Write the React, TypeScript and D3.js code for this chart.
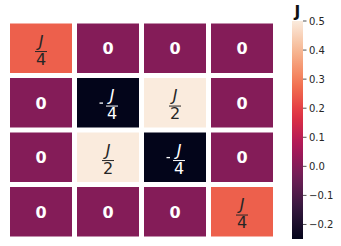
import React from 'react';
import * as d3 from 'd3';

// heatmap values (in units of J) and their annotations
const rowIds = [0, 1, 2, 3];
const colIds = [0, 1, 2, 3];
const values = [
  [0.25, 0, 0, 0],
  [0, -0.25, 0.5, 0],
  [0, 0.5, -0.25, 0],
  [0, 0, 0, 0.25],
];
const labels = [
  ['J/4', '0', '0', '0'],
  ['0', '-J/4', 'J/2', '0'],
  ['0', 'J/2', '-J/4', '0'],
  ['0', '0', '0', 'J/4'],
];
const cbarTicks = [-0.2, -0.1, 0.0, 0.1, 0.2, 0.3, 0.4, 0.5];
const vmin = -0.25;
const vmax = 0.5;
const rocketStops = ['#03051a', '#35193e', '#701f57', '#ad1759', '#e13342', '#f37651', '#f6b48f', '#faebdd'];

const fontFam = '"DejaVu Sans", sans-serif';

const Fraction = ({ cx, cy, label, color }) => {
  if (label === '0') {
    return (
      <text x={cx} y={cy + 6} textAnchor="middle" fill={color} fontSize={16} fontWeight="bold" fontFamily={fontFam}>
        0
      </text>
    );
  }
  const neg = label.startsWith('-');
  const [num, den] = label.replace('-', '').split('/');
  const fx = neg ? cx + 4 : cx;
  return (
    <g fill={color} fontFamily={fontFam} fontSize={16}>
      {neg && <rect x={fx - 12.5} y={cy - 0.3} width={3.5} height={1.3} />}
      <text x={fx} y={cy - 1.5} textAnchor="middle" fontStyle="italic">{num}</text>
      <rect x={fx - 6} y={cy + 2.8} width={12} height={1} />
      <text x={fx} y={cy + 16.5} textAnchor="middle">{den}</text>
    </g>
  );
};

const App = () => {
  const width = 341;
  const height = 246;
  const left = 7.5;
  const right = 275.5;
  const top = 21;
  const bottom = 239;
  const gap = 5;

  const x = d3.scaleBand().domain(colIds).range([left, right]);
  const y = d3.scaleBand().domain(rowIds).range([top, bottom]);

  const rocket = d3
    .scaleLinear()
    .domain(rocketStops.map((_, i) => i / (rocketStops.length - 1)))
    .range(rocketStops)
    .interpolate(d3.interpolateRgb);
  const norm = d3.scaleLinear().domain([vmin, vmax]).range([0, 1]);
  const color = v => rocket(norm(v));

  const cbX = 292;
  const cbW = 11;
  const cbY = d3.scaleLinear().domain([vmin, vmax]).range([bottom, top]);
  const gradStops = d3.range(0, 1.0001, 0.05);

  const cells = [];
  rowIds.forEach(r => {
    colIds.forEach(c => {
      const v = values[r][c];
      const cx = x(c) + x.bandwidth() / 2;
      const cy = y(r) + y.bandwidth() / 2;
      cells.push(
        <g key={`${r}-${c}`}>
          <rect
            x={x(c) + gap / 2}
            y={y(r) + gap / 2}
            width={x.bandwidth() - gap}
            height={y.bandwidth() - gap}
            fill={color(v)}
          />
          <Fraction cx={cx} cy={cy} label={labels[r][c]} color={norm(v) > 0.6 ? '#262626' : '#ffffff'} />
        </g>
      );
    });
  });

  return (
    <svg width={width} height={height} style={{ position: 'absolute', left: 0, top: 0 }}>
      <defs>
        <linearGradient id="cbar" x1="0" y1="1" x2="0" y2="0">
          {gradStops.map(t => (
            <stop key={t} offset={t} stopColor={rocket(t)} />
          ))}
        </linearGradient>
      </defs>
      <rect width={width} height={height} fill="#fff" />
      {cells}
      <rect x={cbX} y={top} width={cbW} height={bottom - top} fill="url(#cbar)" />
      {cbarTicks.map(t => (
        <g key={t} transform={`translate(${cbX + cbW},${cbY(t)})`}>
          <line x1={0} x2={3.5} stroke="#262626" strokeWidth={0.8} />
          <text x={6} y={3.6} fontSize={10} fontFamily={fontFam} fill="#262626">
            {d3.format('.1f')(t).replace('-', '\u2212')}
          </text>
        </g>
      ))}
      <text x={cbX + cbW / 2} y={17} textAnchor="middle" fontSize={15.5} fontWeight="bold" fontFamily={fontFam} fill="#111">
        J
      </text>
    </svg>
  );
};

export default App;
